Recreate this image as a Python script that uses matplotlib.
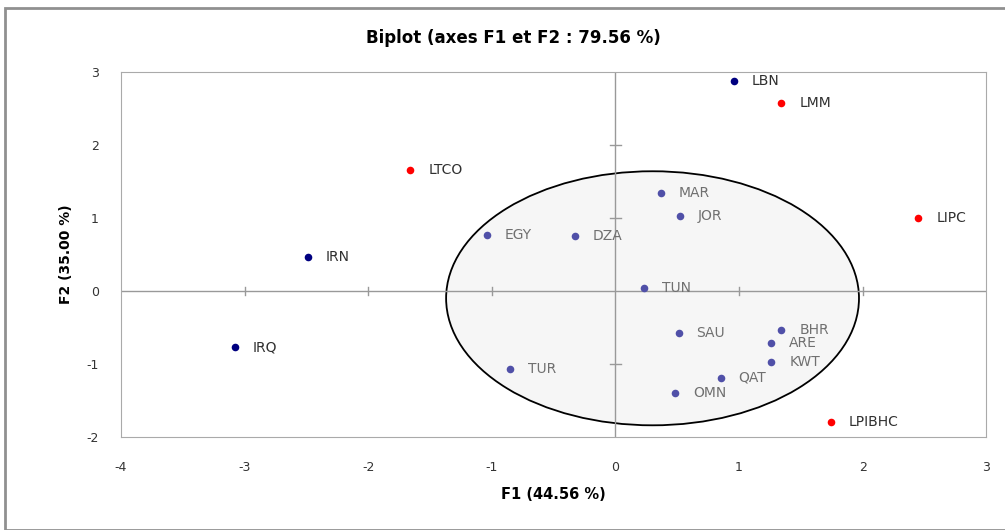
import matplotlib.pyplot as plt
from matplotlib.patches import Ellipse, Rectangle

plt.rcParams['font.family'] = ['DejaVu Sans']
plt.rcParams['axes.unicode_minus'] = False

names = ['LBN', 'IRN', 'IRQ',
         'LMM', 'LIPC', 'LTCO', 'LPIBHC',
         'MAR', 'JOR', 'DZA', 'EGY', 'TUN', 'SAU', 'BHR', 'ARE', 'KWT', 'QAT', 'OMN', 'TUR']
f1 = [0.955, -2.49, -3.08,
      1.34, 2.45, -1.66, 1.74,
      0.365, 0.52, -0.33, -1.04, 0.23, 0.51, 1.34, 1.26, 1.26, 0.85, 0.48, -0.85]
f2 = [2.88, 0.47, -0.77,
      2.58, 1.0, 1.66, -1.79,
      1.34, 1.03, 0.75, 0.77, 0.04, -0.57, -0.53, -0.71, -0.97, -1.19, -1.40, -1.07]
groups = ['out'] * 3 + ['var'] * 4 + ['in'] * 12

colors = {'out': '#000080', 'var': '#ff0000', 'in': '#5050a8'}
txt_colors = {'out': '#303030', 'var': '#303030', 'in': '#707070'}

fig = plt.figure(figsize=(10.05, 5.30), dpi=100)
fig.patches.append(Rectangle((0.005, 0.0), 1.1, 0.985, transform=fig.transFigure,
                             fill=False, edgecolor='#909090', lw=2.0))
ax = fig.add_axes([0.1204, 0.1755, 0.861, 0.6887])

ax.add_patch(Ellipse((0.30, -0.10), 3.34, 3.48, facecolor='#f6f6f6',
                     edgecolor='black', lw=1.3, zorder=1))

ax.axhline(0, color='#999999', lw=1, zorder=2)
ax.axvline(0, color='#999999', lw=1, zorder=2)
for t in [-3, -2, -1, 1, 2]:
    ax.plot([t, t], [-0.06, 0.06], color='#999999', lw=1, zorder=2)
for t in [-1, 1, 2]:
    ax.plot([-0.045, 0.045], [t, t], color='#999999', lw=1, zorder=2)

for n, x, y, g in zip(names, f1, f2, groups):
    ax.scatter(x, y, s=30, color=colors[g], zorder=3, linewidths=0)
    ax.annotate(n, (x, y), xytext=(13, 0), textcoords='offset points',
                va='center', ha='left', fontsize=10, color=txt_colors[g], zorder=4)

ax.set_xlim(-4, 3)
ax.set_ylim(-2, 3)
ax.set_xticks(range(-4, 4))
ax.set_yticks(range(-2, 4))
ax.tick_params(length=0, labelsize=9, colors='#333333')
ax.tick_params(axis='x', pad=17)
ax.tick_params(axis='y', pad=16)
for s in ax.spines.values():
    s.set_color('#aaaaaa')

fig.text(0.511, 0.928, 'Biplot (axes F1 et F2 : 79.56 %)', fontsize=12, fontweight='bold',
         ha='center', va='center')
ax.set_xlabel('F1 (44.56 %)', fontsize=10.5, fontweight='bold', labelpad=10)
ax.set_ylabel('F2 (35.00 %)', fontsize=10, fontweight='bold', labelpad=10)

fig.savefig('out.png', dpi=100)
